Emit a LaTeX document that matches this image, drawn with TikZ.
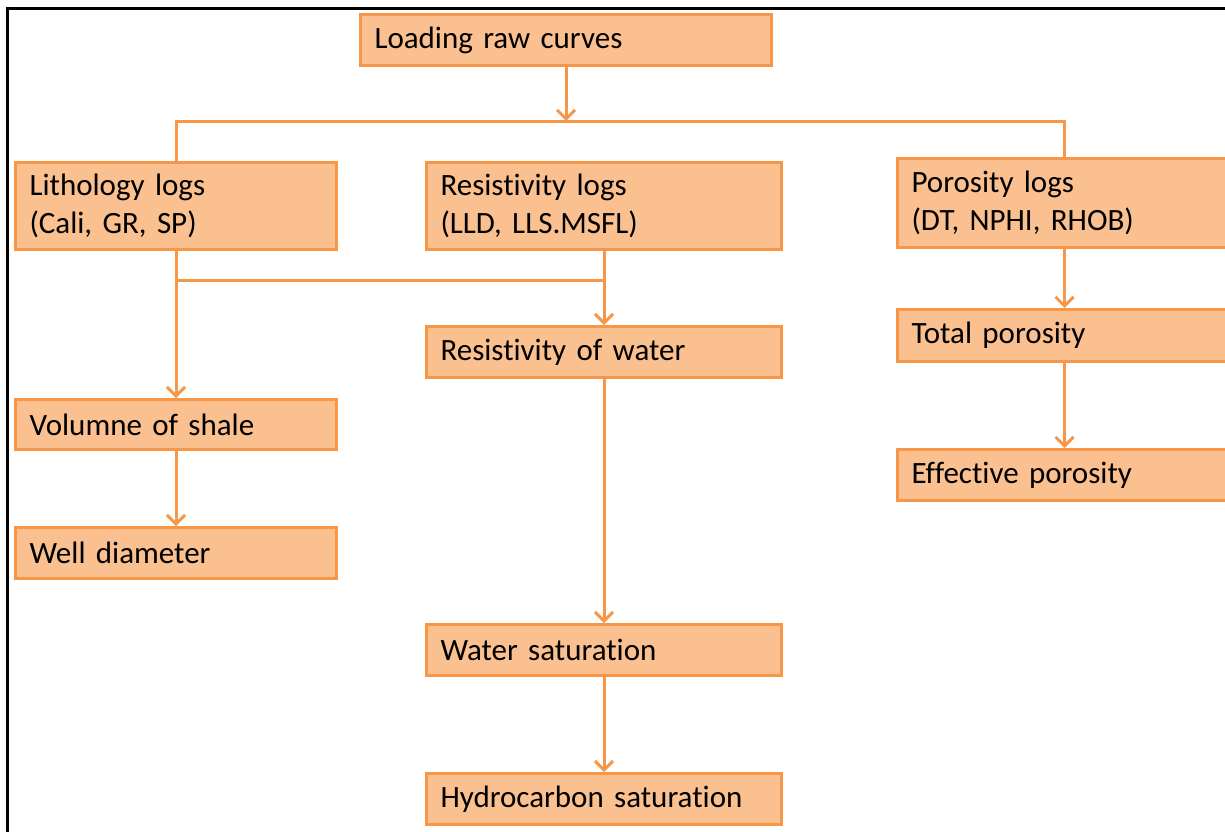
\documentclass[tikz,border=0pt]{standalone}
\usepackage{fontspec}
\setmainfont{Carlito}[Ligatures=NoCommon,WordSpace=0.75]
\usetikzlibrary{arrows.meta,calc}
\definecolor{boxfill}{HTML}{FAC090}
\definecolor{boxline}{HTML}{F79646}
\begin{document}
\begin{tikzpicture}[x=1pt,y=-1pt,
  box/.style={draw=boxline, fill=boxfill, line width=3pt, rectangle, anchor=north west,
    inner xsep=14pt, inner ysep=0pt, align=left, text=black,
    font=\fontsize{31}{38}\selectfont},
  conn/.style={draw=boxline, line width=3pt},
  arr/.style={conn, -{Straight Barb[length=9pt,width=18pt,line width=3pt]}}]
\clip (0,0) rectangle (1225,831);
\fill[white] (0,0) rectangle (1225,831);
\draw[line width=3pt] (7,840) -- (7,8) -- (1240,8);

\node[box, minimum width=411pt, minimum height=51pt, text width=383pt] (load) at (359,13) {Loading raw curves};
\node[box, minimum width=321pt, minimum height=87pt, text width=293pt] (lith) at (14,161) {Lithology logs\\(Cali, GR, SP)};
\node[box, minimum width=355pt, minimum height=87pt, text width=327pt] (res) at (425,161) {Resistivity logs\\(LLD, LLS.MSFL)};
\node[box, minimum width=334pt, minimum height=89pt, text width=306pt] (por) at (896,157) {Porosity logs\\(DT, NPHI, RHOB)};
\node[box, minimum width=355pt, minimum height=51pt, text width=327pt] (resw) at (425,325) {Resistivity of water};
\node[box, minimum width=321pt, minimum height=50pt, text width=293pt] (vol) at (14,398) {Volumne of shale};
\node[box, minimum width=321pt, minimum height=51pt, text width=293pt] (well) at (14,526) {Well diameter};
\node[box, minimum width=334pt, minimum height=52pt, text width=306pt] (tot) at (896,308) {Total porosity};
\node[box, minimum width=334pt, minimum height=51pt, text width=306pt] (eff) at (896,448) {Effective porosity};
\node[box, minimum width=355pt, minimum height=51pt, text width=327pt] (ws) at (425,623) {Water saturation};
\node[box, minimum width=355pt, minimum height=51pt, text width=327pt] (hc) at (425,772) {Hydrocarbon saturation};

\coordinate (h1) at (0,121);
\coordinate (h2) at (0,280);

\draw[arr] (load.south) -- (load.south |- h1);
\draw[conn] (lith.north) -- (lith.north |- h1) -| (por.north);
\draw[arr] (lith.south) -- (vol.north);
\draw[conn] (lith.south |- h2) -- (res.south |- h2);
\draw[arr] (res.south) -- (resw.north);
\draw[arr] (resw.south) -- (ws.north);
\draw[arr] (ws.south) -- (hc.north);
\draw[arr] (vol.south) -- (well.north);
\draw[arr] (por.south) -- (tot.north);
\draw[arr] (tot.south) -- (eff.north);
\end{tikzpicture}
\end{document}
